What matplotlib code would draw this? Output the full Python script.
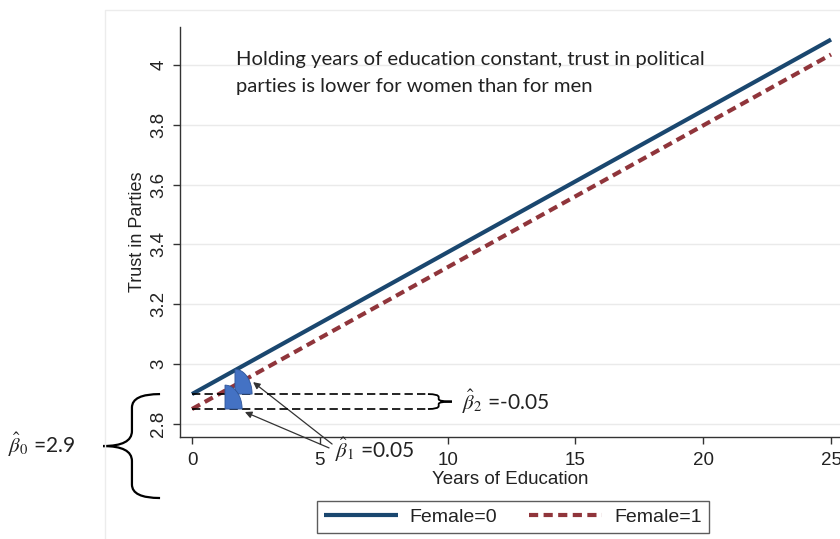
import numpy as np
import matplotlib
matplotlib.use("Agg")
import matplotlib.pyplot as plt
from matplotlib.path import Path
from matplotlib.patches import PathPatch, Polygon, Rectangle

# Fitted model: trust = b0 + b1 * education + b2 * female
b0 = 2.9
b1 = 0.0474
b2 = -0.05
educ_years = [0, 25]
female_groups = [0, 1]
series_labels = ["Female=0", "Female=1"]
x_ticks = [0, 5, 10, 15, 20, 25]
y_ticks = [2.8, 3.0, 3.2, 3.4, 3.6, 3.8, 4.0]
y_tick_labels = ["2.8", "3", "3.2", "3.4", "3.6", "3.8", "4"]
note_text = ("Holding years of education constant, trust in political\n"
             "parties is lower for women than for men")

plt.rcParams["font.family"] = ["Liberation Sans", "DejaVu Sans"]
plt.rcParams["mathtext.fontset"] = "stix"

NAVY = "#1a476f"
MAROON = "#90353b"
WEDGE = "#4472c4"
INK = "#222222"
NOTE_FONT = ["Lato", "DejaVu Sans"]

fig = plt.figure(figsize=(8.4, 5.39), dpi=100)
ax = fig.add_axes([180 / 840, 102 / 539, 660 / 840, 410 / 539])

# faint outer frame of the graph region
fig.patches.append(Rectangle((105 / 840, -0.1), 1.2, 1 - 10 / 539 + 0.1,
                             transform=fig.transFigure, fill=False,
                             edgecolor="#ececec", lw=1.0, zorder=0))

x = np.array(educ_years, dtype=float)
styles = [dict(color=NAVY, lw=3.0, ls="-"),
          dict(color=MAROON, lw=3.0, ls=(0, (2.2, 1.3)))]
handles = []
for f, lab, st in zip(female_groups, series_labels, styles):
    y = b0 + b1 * x + b2 * f
    h, = ax.plot(x, y, solid_capstyle="butt", dash_capstyle="butt",
                 zorder=3, label=lab, **st)
    handles.append(h)

ax.set_xlim(-0.47, 25.35)
ax.set_ylim(2.7565, 4.127)
ax.set_xticks(x_ticks)
ax.set_yticks(y_ticks)
ax.set_yticklabels(y_tick_labels, rotation=90, va="center")
ax.grid(axis="y", color="#eaeaea", lw=1.0, zorder=0)
ax.set_axisbelow(True)
for s in ("top", "right"):
    ax.spines[s].set_visible(False)
for s in ("left", "bottom"):
    ax.spines[s].set_linewidth(1.0)
    ax.spines[s].set_color("#333333")
ax.tick_params(direction="out", length=5, width=1.0, color="#333333",
               labelsize=13.5, labelcolor=INK)
ax.tick_params(axis="x", pad=6)
ax.tick_params(axis="y", pad=4)
ax.set_xlabel("Years of Education", fontsize=13.5, color=INK, labelpad=1)
ax.set_ylabel("Trust in Parties", fontsize=13, color=INK, labelpad=3)

# note text inside the plot
ax.text(1.72, 4.046, note_text, fontsize=14.6, family=NOTE_FONT, color=INK,
        ha="left", va="top", linespacing=1.7)

# dashed reference levels for the two intercepts
y_men, y_women = b0, b0 + b2
dash_end = 9.23
for yy in (y_men, y_women):
    ax.plot([0, dash_end], [yy, yy], color="black", lw=1.2,
            ls=(0, (5, 2.5)), zorder=4)


def curly_brace(x_arm, x_spine, x_tip, y_top, y_bot, r_arm, r_tip, lw):
    y_mid = (y_top + y_bot) / 2
    verts = [(x_arm, y_top),
             (x_spine, y_top), (x_spine, y_top - r_arm),
             (x_spine, y_mid + r_tip),
             (x_spine, y_mid), (x_tip, y_mid),
             (x_spine, y_mid), (x_spine, y_mid - r_tip),
             (x_spine, y_bot + r_arm),
             (x_spine, y_bot), (x_arm, y_bot)]
    codes = [Path.MOVETO,
             Path.CURVE3, Path.CURVE3,
             Path.LINETO,
             Path.CURVE3, Path.CURVE3,
             Path.CURVE3, Path.CURVE3,
             Path.LINETO,
             Path.CURVE3, Path.CURVE3]
    patch = PathPatch(Path(verts, codes), fill=False, edgecolor="black",
                      lw=lw, clip_on=False, zorder=5,
                      transform=ax.transData)
    ax.add_patch(patch)


# brace marking the gap between the two intercepts
curly_brace(dash_end, 9.65, 10.17, y_men, y_women, 0.01, 0.008, 1.3)
ax.text(10.56, (y_men + y_women) / 2, r"$\hat{\beta}_2$ =" + f"{b2:.2f}",
        fontsize=15, family=NOTE_FONT, color=INK, ha="left", va="center")

# brace marking the intercept
curly_brace(-1.25, -2.35, -3.48, b0, 2.5525, 0.045, 0.05, 1.6)
ax.text(-7.2, 2.73, r"$\hat{\beta}_0$ =" + f"{b0:g}", fontsize=15,
        family=NOTE_FONT, color=INK, ha="left", va="center", clip_on=False)


# slope markers under each line
def slope_wedge(x0, y_base, w, h):
    t = np.linspace(0, np.pi / 2, 40)
    pts = np.column_stack([x0 + w * np.cos(t), y_base + h * np.sin(t)])
    pts = np.vstack([[x0, y_base], pts])
    ax.add_patch(Polygon(pts, closed=True, facecolor=WEDGE,
                         edgecolor="#2f5597", lw=0.6, zorder=4))


slope_wedge(1.68, y_men, 0.67, 0.083)
slope_wedge(1.29, y_women, 0.67, 0.08)

ax.text(5.6, 2.713, r"$\hat{\beta}_1$ =" + f"{b1:.2f}", fontsize=15,
        family=NOTE_FONT, color=INK, ha="left", va="center", clip_on=False)
arrow_kw = dict(arrowstyle="-|>", color="#333333", lw=0.9,
                mutation_scale=10, shrinkA=0, shrinkB=0)
ax.annotate("", xy=(2.39, 2.94), xytext=(5.48, 2.733),
            arrowprops=arrow_kw, annotation_clip=False)
ax.annotate("", xy=(2.07, 2.84), xytext=(5.36, 2.72),
            arrowprops=arrow_kw, annotation_clip=False)

leg = fig.legend(handles=handles, labels=series_labels, loc="center",
                 bbox_to_anchor=(513 / 840, 1 - 517 / 539), ncol=2,
                 fontsize=14, frameon=True, fancybox=False,
                 edgecolor="#333333", handlelength=3.8, columnspacing=1.6,
                 handletextpad=0.6, borderpad=0.35)
leg.get_frame().set_linewidth(1.0)
for t in leg.get_texts():
    t.set_color(INK)

fig.savefig("out.png", dpi=100, facecolor="white")
